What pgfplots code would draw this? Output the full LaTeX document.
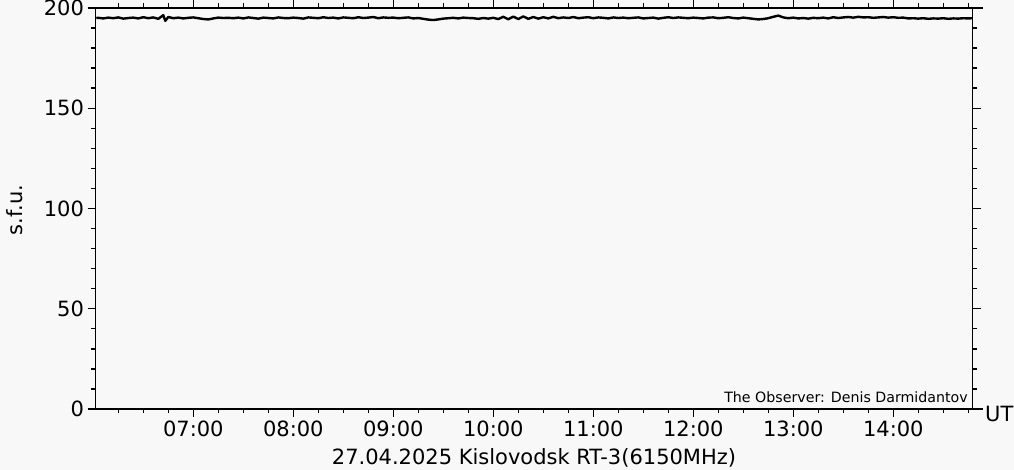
\documentclass[border=0pt]{standalone}
\usepackage{pgfplots}
\pgfplotsset{compat=1.18}
\usepackage{fontspec}
\setmainfont{DejaVu Sans}
\definecolor{bg}{HTML}{F8F8F8}
\pgfplotstableread{
x y
6.03 195.0
6.05 195.1
6.10 194.8
6.15 195.2
6.20 194.9
6.25 195.3
6.30 194.7
6.35 195.0
6.40 195.2
6.45 194.8
6.50 195.4
6.55 194.9
6.60 195.3
6.65 194.6
6.70 196.4
6.72 193.6
6.75 195.5
6.80 194.9
6.85 195.2
6.90 194.8
6.95 195.1
7.00 195.3
7.05 194.9
7.10 194.5
7.15 194.3
7.20 194.8
7.25 195.2
7.30 195.0
7.35 195.1
7.40 194.9
7.45 195.2
7.50 194.8
7.55 195.3
7.60 195.0
7.65 194.7
7.70 195.2
7.75 195.0
7.80 194.8
7.85 195.3
7.90 195.0
7.95 194.9
8.00 195.2
8.05 195.0
8.10 194.7
8.15 195.3
8.20 195.1
8.25 194.9
8.30 195.4
8.35 195.0
8.40 195.2
8.45 194.8
8.50 195.3
8.55 195.1
8.60 194.9
8.65 195.4
8.70 195.0
8.75 195.2
8.80 195.5
8.85 194.9
8.90 195.3
8.95 195.1
9.00 195.2
9.05 194.9
9.10 195.1
9.15 195.3
9.20 194.8
9.25 195.0
9.30 194.6
9.35 194.2
9.40 194.0
9.45 194.3
9.50 194.7
9.55 194.9
9.60 195.1
9.65 194.8
9.70 195.2
9.75 195.0
9.80 194.9
9.85 194.6
9.90 195.0
9.95 194.7
10.00 195.1
10.05 194.5
10.10 195.6
10.15 194.4
10.20 195.7
10.25 194.5
10.30 195.8
10.35 194.6
10.40 195.5
10.45 194.7
10.50 195.4
10.55 194.8
10.60 195.6
10.65 194.9
10.70 195.3
10.75 195.0
10.80 195.5
10.85 194.9
10.90 195.2
10.95 195.4
11.00 194.9
11.05 195.3
11.10 195.1
11.15 194.8
11.20 195.3
11.25 195.0
11.30 195.2
11.35 194.9
11.40 195.1
11.45 195.3
11.50 194.8
11.55 195.0
11.60 195.2
11.65 194.7
11.70 195.1
11.75 195.4
11.80 195.0
11.85 195.3
11.90 195.1
11.95 194.9
12.00 195.2
12.05 195.0
12.10 194.8
12.15 195.2
12.20 195.3
12.25 194.9
12.30 195.1
12.35 195.4
12.40 195.0
12.45 194.8
12.50 195.2
12.55 194.9
12.60 194.6
12.65 194.3
12.70 194.5
12.75 194.9
12.80 195.6
12.85 196.2
12.90 195.3
12.95 194.9
13.00 195.2
13.05 194.8
13.10 195.0
13.15 194.7
13.20 195.1
13.25 194.9
13.30 195.2
13.35 194.8
13.40 195.4
13.45 195.0
13.50 195.3
13.55 195.5
13.60 195.2
13.65 195.6
13.70 195.3
13.75 195.4
13.80 195.1
13.85 195.3
13.90 195.5
13.95 195.2
14.00 195.4
14.05 195.1
14.10 195.2
14.15 194.8
14.20 194.9
14.25 194.7
14.30 194.9
14.35 194.6
14.40 194.8
14.45 194.7
14.50 194.9
14.55 194.6
14.60 194.8
14.65 194.7
14.70 194.9
14.75 194.8
14.79 194.9
}\flux
\begin{document}
\begin{tikzpicture}[x=1pt,y=1pt]
\useasboundingbox (0,0) rectangle (1014,470);
\fill[bg] (0,0) rectangle (1014,470);
\begin{axis}[
  at={(95.5pt,61pt)}, anchor=south west,
  scale only axis, width=877pt, height=401pt,
  xmin=6.022, xmax=14.792, ymin=0, ymax=200,
  axis line style={line width=1.6pt},
  xtick={7,8,9,10,11,12,13,14},
  xticklabels={07:00,08:00,09:00,10:00,11:00,12:00,13:00,14:00},
  minor x tick num=3,
  extra x ticks={6.25,6.5,6.75,14.25,14.5,14.75},
  extra x tick labels={},
  extra x tick style={tick style={line width=1.4pt}, major tick length=4.5pt},
  ytick={0,50,100,150,200},
  minor y tick num=4,
  tick align=outside,
  major tick length=8pt, minor tick length=4.5pt,
  every tick/.style={black, line width=1.4pt},
  tick label style={font=\fontsize{21}{25}\selectfont},
  /pgf/number format/assume math mode=true,
  clip=false,
]
\addplot[black, line width=2.4pt, line join=round] table[x=x,y=y] {\flux};
\end{axis}
\draw[line width=1.6pt] (88,462) -- (983,462);
\draw[line width=1.6pt] (88,61) -- (983,61);
\node[rotate=90, font=\fontsize{21}{25}\selectfont] at (15,260) {s.f.u.};
\node[anchor=base, font=\fontsize{21}{25}\selectfont, inner sep=0] at (534,5.5) {27.04.2025 Kislovodsk RT-3(6150MHz)};
\node[anchor=base west, font=\fontsize{21}{25}\selectfont, inner sep=0] at (985,48) {UT};
\node[anchor=base east, font=\fontsize{14.2}{17}\selectfont, inner sep=0] at (968,67) {The Observer: Denis Darmidantov};
\end{tikzpicture}
\end{document}
